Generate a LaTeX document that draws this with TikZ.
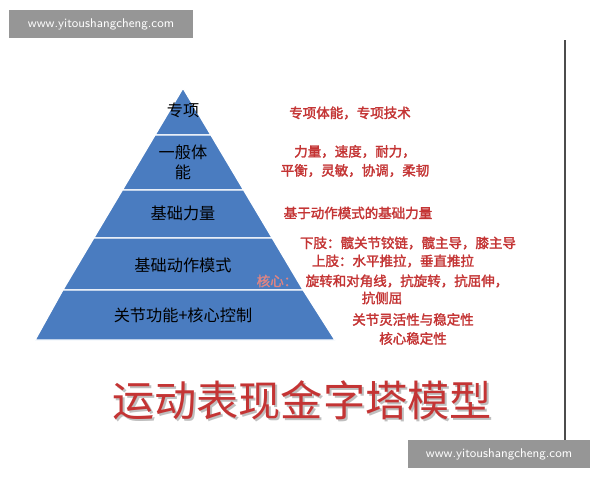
\documentclass[tikz,border=0pt]{standalone}
\usepackage{fontspec}
\newfontfamily\cjk{Noto Sans CJK SC}[AutoFakeBold=2]
\newfontfamily\cjkb{Noto Sans CJK SC}[AutoFakeBold=3.5]
\definecolor{pyrblue}{RGB}{74,124,192}
\definecolor{txtred}{RGB}{196,52,52}
\definecolor{wmgrey}{RGB}{150,150,150}
\begin{document}
\begin{tikzpicture}
    [x=0.025cm,y=-0.025cm,
     band/.style={fill=pyrblue,draw=white,line width=1pt},
     level/.style={font=\cjk\fontsize{11.5}{14}\selectfont,text=black,align=center},
     note/.style={font=\cjk\bfseries\fontsize{9.6}{11.5}\selectfont,text=txtred,align=center,inner sep=0pt},
     wmark/.style={fill=wmgrey,text=white,font=\sffamily\fontsize{9}{11}\selectfont,minimum height=0.7cm,inner sep=3pt}]
  \useasboundingbox (0,0) rectangle (600,480);
  \fill[white] (0,0) rectangle (600,480);
  \draw[black!70,line width=1pt] (565,40) -- (565,440);
  % pyramid bands
  \draw[band] (183,88) -- (211,135) -- (155,135) -- cycle;
  \draw[band] (155,135) -- (211,135) -- (243.7,190) -- (122.3,190) -- cycle;
  \draw[band] (122.3,190) -- (243.7,190) -- (272.3,238) -- (93.7,238) -- cycle;
  \draw[band] (93.7,238) -- (272.3,238) -- (303.2,290) -- (62.8,290) -- cycle;
  \draw[band] (62.8,290) -- (303.2,290) -- (335,340) -- (35,340) -- cycle;
  \node[level] (l1) at (183,110) {专项};
  \node[level] (l2) at (183,162) {一般体\\能};
  \node[level] (l3) at (183,213) {基础力量};
  \node[level] (l4) at (183,265) {基础动作模式};
  \node[level] (l5) at (183,315) {关节功能+核心控制};
  % notes
  \node[note] (n1) at (350,113) {专项体能，专项技术};
  \node[note] (n2) at (355,161) {力量，速度，耐力，\\[2pt]平衡，灵敏，协调，柔韧};
  \node[note] (n3) at (358,213) {基于动作模式的基础力量};
  \node[note] (n4) at (408,243) {下肢：髋关节铰链，髋主导，膝主导};
  \node[note] (n5) at (393,261) {上肢：水平推拉，垂直推拉};
  \node[note,text=txtred!60] (n6) at (277,281) {核心：};
  \node[note] (n7) at (407,281) {旋转和对角线，抗旋转，抗屈伸，};
  \node[note] (n8) at (382,298) {抗侧屈};
  \node[note] (n9) at (413,329) {关节灵活性与稳定性\\[2pt]核心稳定性};
  % title
  \node[font=\cjkb\fontsize{30}{33}\selectfont,text=black!25] at (304,402) {运动表现金字塔模型};
  \node[font=\cjkb\fontsize{30}{33}\selectfont,text=txtred] (title) at (302,400) {运动表现金字塔模型};
  % watermarks
  \node[wmark,minimum width=4.6cm] (wm1) at (101,24) {www.yitoushangcheng.com};
  \node[wmark,minimum width=4.55cm] (wm2) at (499,454) {www.yitoushangcheng.com};
\end{tikzpicture}
\end{document}
